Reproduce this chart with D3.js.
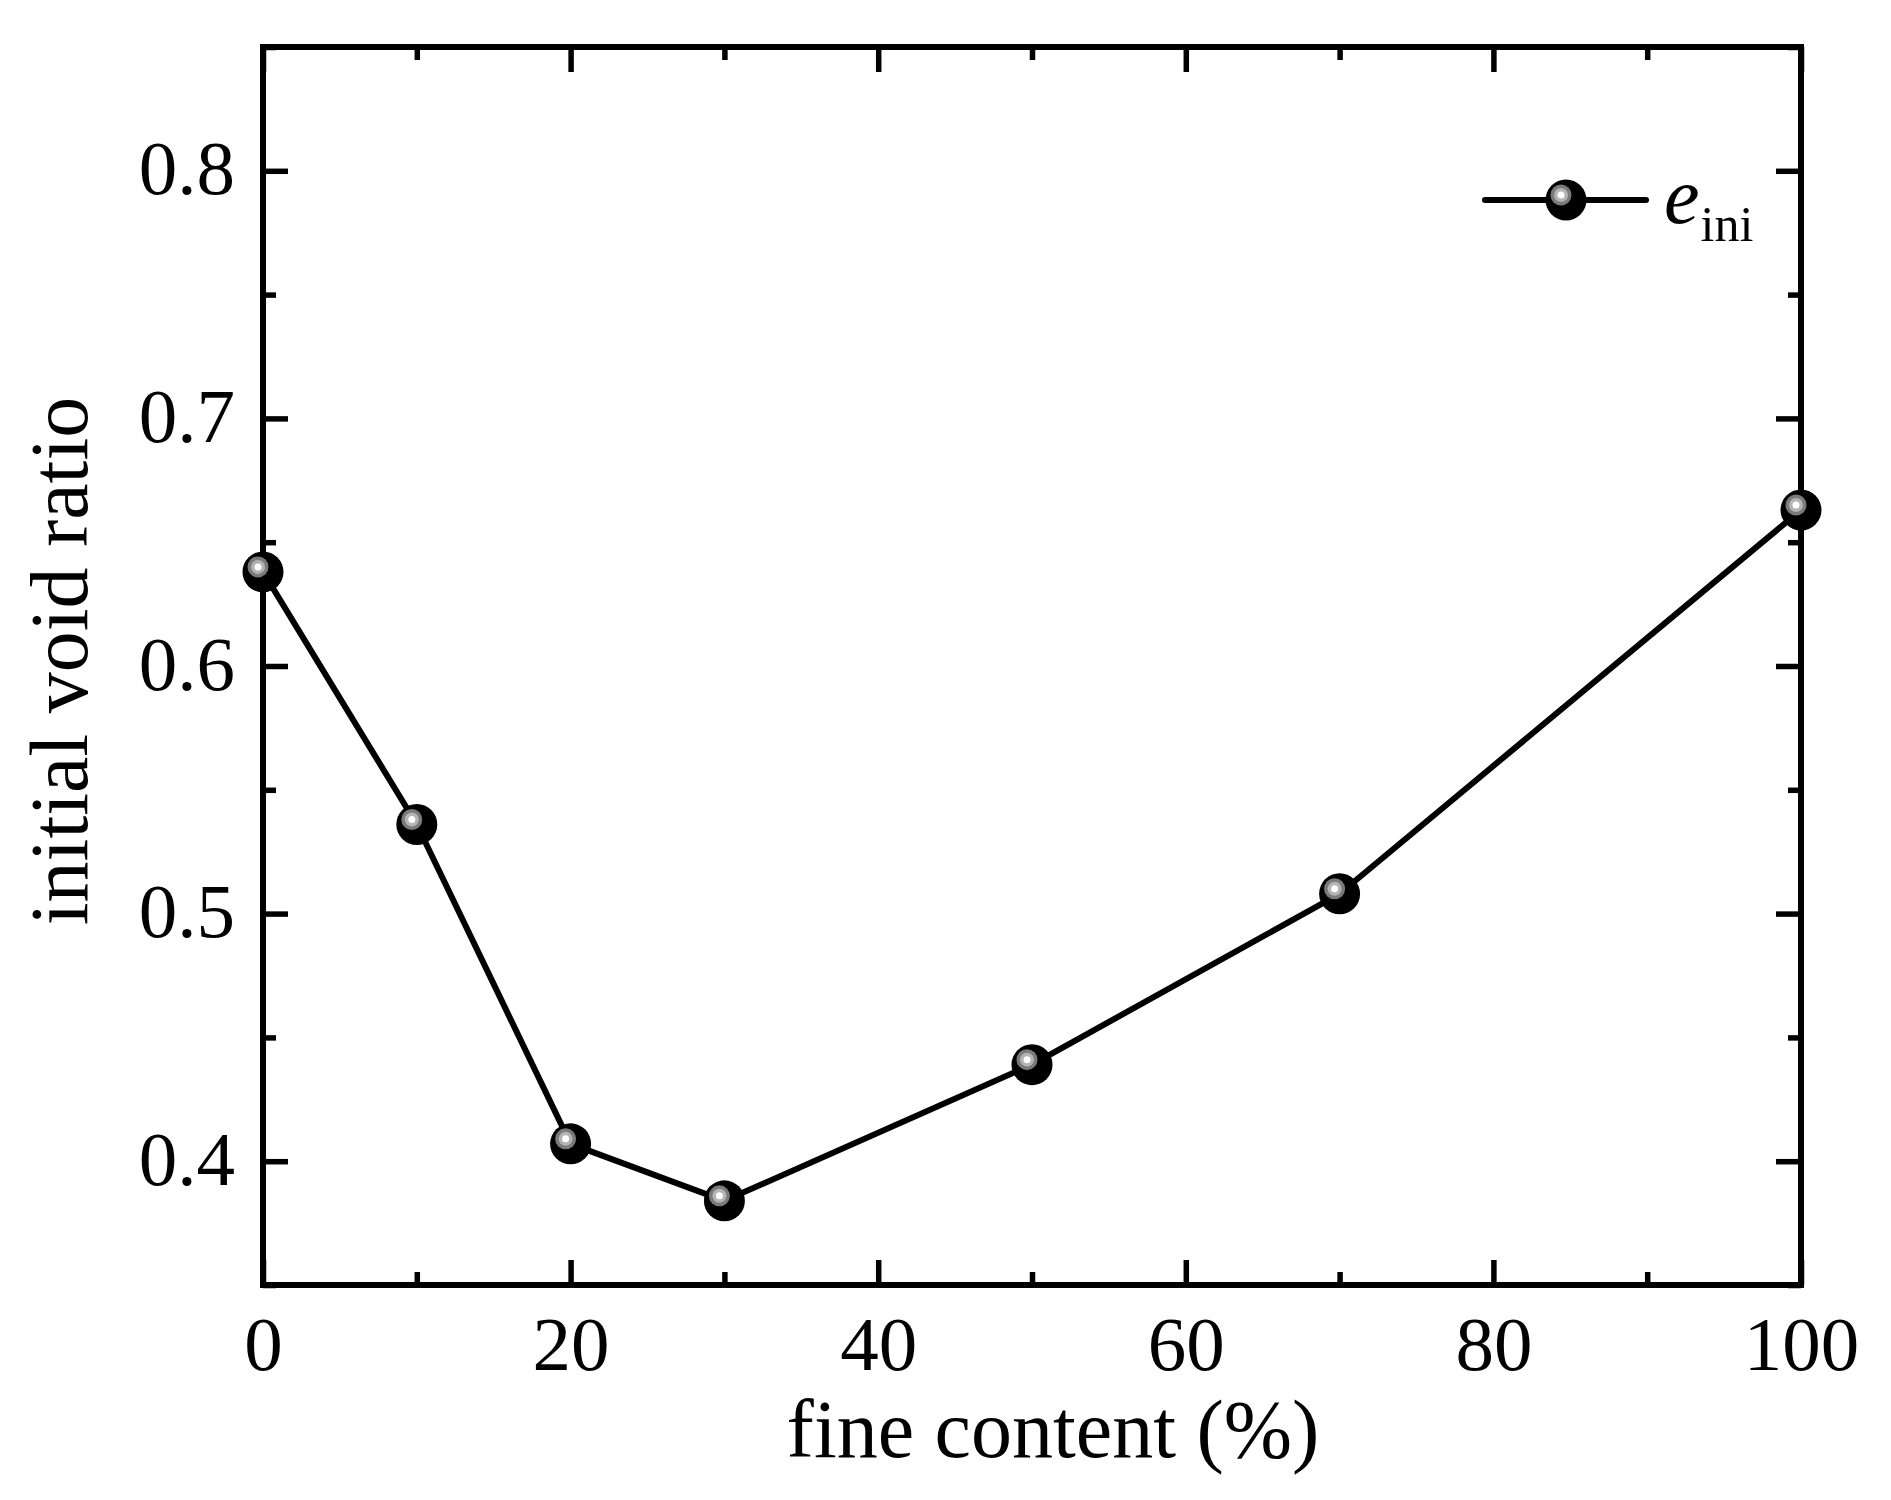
<!DOCTYPE html>
<html><head><meta charset="utf-8">
<script src="https://cdn.jsdelivr.net/npm/d3@7"></script>
<style>body{margin:0;background:#fff}svg{display:block}</style>
</head><body>
<script>
const fineContent = [0, 10, 20, 30, 50, 70, 100];
const voidRatio = [0.638, 0.536, 0.407, 0.384, 0.439, 0.508, 0.663];
const xMajorTicks = [0, 20, 40, 60, 80, 100];
const xMinorTicks = [10, 30, 50, 70, 90];
const yMajorTicks = [0.4, 0.5, 0.6, 0.7, 0.8];
const yMinorTicks = [0.35, 0.45, 0.55, 0.65, 0.75, 0.85];
const xTitle = "fine content (%)";
const yTitle = "initial void ratio";

const W = 1891, H = 1500;
const L = 263, R = 1801, T = 47, B = 1285;
const font = "'Liberation Serif','Times New Roman',serif";

const svg = d3.select("body").append("svg").attr("width", W).attr("height", H);
const x = d3.scaleLinear().domain([0, 100]).range([L, R]);
const y = d3.scaleLinear().domain([0.35, 0.85]).range([B, T]);

const major = 25, minor = 13, tw = 5.5;
function ax(gen, scale, ticks, len, tr) {
  const g = svg.append("g").attr("transform", tr)
    .call(gen(scale).tickValues(ticks).tickSize(len).tickFormat(""));
  g.select(".domain").remove();
  g.selectAll(".tick line").attr("stroke", "#000").attr("stroke-width", tw);
  return g;
}
ax(d3.axisTop, x, xMajorTicks, major, `translate(0,${B})`);
ax(d3.axisTop, x, xMinorTicks, minor, `translate(0,${B})`);
ax(d3.axisBottom, x, xMajorTicks, major, `translate(0,${T})`);
ax(d3.axisBottom, x, xMinorTicks, minor, `translate(0,${T})`);
ax(d3.axisRight, y, yMajorTicks, major, `translate(${L},0)`);
ax(d3.axisRight, y, yMinorTicks, minor, `translate(${L},0)`);
ax(d3.axisLeft, y, yMajorTicks, major, `translate(${R},0)`);
ax(d3.axisLeft, y, yMinorTicks, minor, `translate(${R},0)`);

const xl = svg.append("g").attr("transform", `translate(0,${B})`)
  .call(d3.axisBottom(x).tickValues(xMajorTicks).tickSize(0).tickPadding(0).tickFormat(d3.format("d")));
xl.select(".domain").remove();
xl.selectAll("text").attr("font-family", font).attr("font-size", 77).attr("fill", "#000")
  .attr("dy", null).attr("y", 85);

const yl = svg.append("g").attr("transform", `translate(${L},0)`)
  .call(d3.axisLeft(y).tickValues(yMajorTicks).tickSize(0).tickPadding(0).tickFormat(d3.format(".1f")));
yl.select(".domain").remove();
yl.selectAll("text").attr("font-family", font).attr("font-size", 77).attr("fill", "#000")
  .attr("x", -28).attr("dy", null).attr("y", 23);

svg.append("rect").attr("x", L).attr("y", T).attr("width", R - L).attr("height", B - T)
  .attr("fill", "none").attr("stroke", "#000").attr("stroke-width", 6);

svg.append("text").attr("x", 1053).attr("y", 1457).attr("text-anchor", "middle")
  .attr("font-family", font).attr("font-size", 82).text(xTitle);
svg.append("text").attr("transform", "translate(87,661) rotate(-90)").attr("text-anchor", "middle")
  .attr("font-family", font).attr("font-size", 82).text(yTitle);

const data = fineContent.map((d, i) => ({ x: d, y: voidRatio[i] }));
svg.append("path").datum(data)
  .attr("d", d3.line().x(d => x(d.x)).y(d => y(d.y)))
  .attr("fill", "none").attr("stroke", "#000").attr("stroke-width", 6).attr("stroke-linejoin", "round");

function marker(g) {
  g.append("circle").attr("r", 20.5).attr("fill", "#000");
  g.append("circle").attr("cx", -5).attr("cy", -5).attr("r", 10.5).attr("fill", "#7a7a7a");
  g.append("circle").attr("cx", -5).attr("cy", -5).attr("r", 7).attr("fill", "#b4b4b4");
  g.append("circle").attr("cx", -5).attr("cy", -5).attr("r", 3.5).attr("fill", "#fff");
}
svg.append("g").selectAll("g").data(data).join("g")
  .attr("transform", d => `translate(${x(d.x)},${y(d.y)})`)
  .each(function () { marker(d3.select(this)); });

const lg = svg.append("g");
lg.append("line").attr("x1", 1485).attr("x2", 1646).attr("y1", 200).attr("y2", 200)
  .attr("stroke", "#000").attr("stroke-width", 6).attr("stroke-linecap", "round");
lg.append("g").attr("transform", "translate(1566,200)").call(marker);
const lt = lg.append("text").attr("x", 1664).attr("y", 223).attr("font-family", font).attr("font-size", 80);
lt.append("tspan").attr("font-style", "italic").text("e");
lt.append("tspan").attr("font-size", 50).attr("dy", 18).attr("dx", 1).text("ini");
</script>
</body></html>
